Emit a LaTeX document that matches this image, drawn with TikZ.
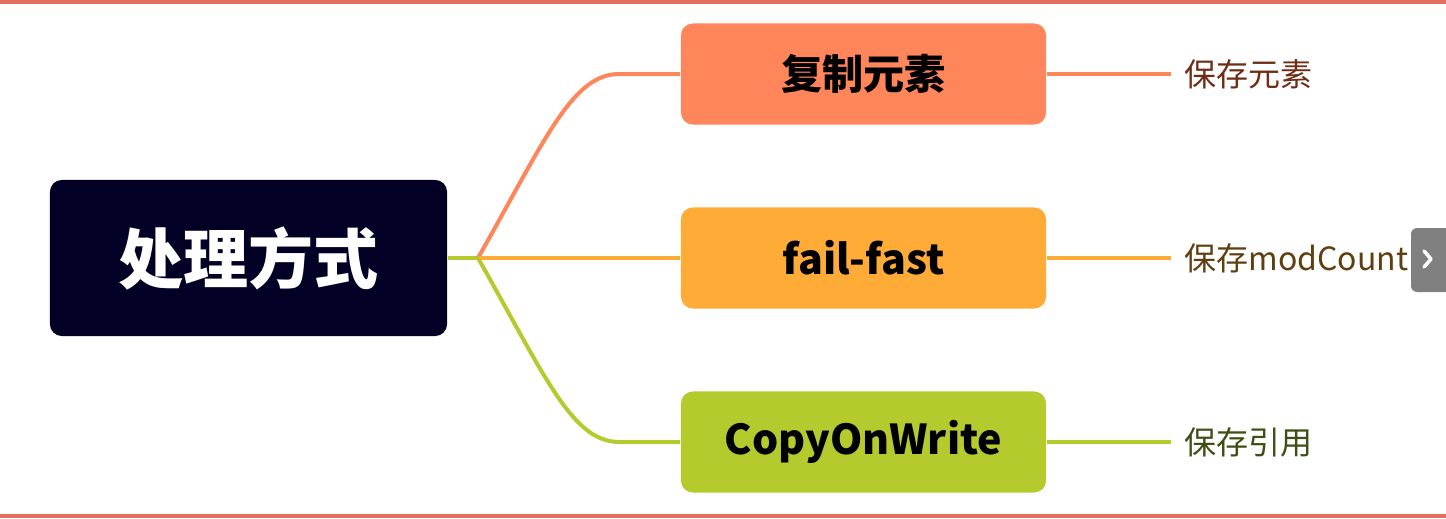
\documentclass[tikz,border=0pt]{standalone}
\usepackage{fontspec}
\setmainfont{Noto Sans CJK SC}
\usepackage{tikz}
\usetikzlibrary{positioning}

\definecolor{rootbg}{RGB}{2,0,36}
\definecolor{cone}{RGB}{255,133,90}
\definecolor{ctwo}{RGB}{255,171,56}
\definecolor{cthree}{RGB}{181,202,44}
\definecolor{tone}{RGB}{110,45,20}
\definecolor{ttwo}{RGB}{95,62,15}
\definecolor{tthree}{RGB}{62,78,20}
\definecolor{framered}{RGB}{225,110,95}
\definecolor{tabgray}{RGB}{128,128,128}

\tikzset{
  rootbox/.style={fill=rootbg, rounded corners=0.12cm, minimum width=3.97cm,
    minimum height=1.56cm, text=white, font=\fontsize{18.5}{20}\selectfont\bfseries},
  itembox/.style={rounded corners=0.12cm, minimum width=3.65cm,
    minimum height=1.01cm, font=\fontsize{11.7}{14}\selectfont\bfseries},
  leaf/.style={anchor=west, inner sep=0.13cm, font=\fontsize{9.1}{11}\selectfont},
  branch/.style={line width=0.04cm}
}

\begin{document}
\begin{tikzpicture}[x=0.01cm, y=-0.01cm]
\useasboundingbox (0,0) rectangle (1446,518);
% frame
\fill[framered] (0,0) rectangle (1446,4);
\fill[framered] (0,514) rectangle (1446,518);

% nodes
\node[rootbox] (root) at (248.5,258) {处理方式};
\node[itembox, fill=cone] (copy) at (863.5,74) {复制元素};
\node[itembox, fill=ctwo] (fail) at (863.5,258) {fail-fast};
\node[itembox, fill=cthree] (cow) at (863.5,442) {CopyOnWrite};
\coordinate (fork) at (478,258);

% branches
\draw[branch, cthree] (root.east) -- (fork);
\draw[branch, cone] (fork) .. controls (545,140) and (572,74) .. ([xshift=-0.61cm]copy.west) -- (copy.west);
\draw[branch, ctwo] (fork) -- (fail.west);
\draw[branch, cthree] (fork) .. controls (545,376) and (572,442) .. ([xshift=-0.61cm]cow.west) -- (cow.west);

% leaves
\foreach \n/\c/\t/\txt in {copy/cone/tone/保存元素, fail/ctwo/ttwo/保存modCount, cow/cthree/tthree/保存引用} {
  \draw[branch, \c] (\n.east) -- ++(124,0) coordinate (\n-end);
  \node[leaf, text=\t] (\n-leaf) at (\n-end) {\txt};
}

% side tab
\fill[tabgray] (1446,228) [rounded corners=0.06cm] -- (1411,228) -- (1411,292) [sharp corners] -- (1446,292) -- cycle;
\draw[white, line width=0.035cm, line cap=round, line join=round] (1424,251) -- (1431,259) -- (1424,267);
\end{tikzpicture}
\end{document}
